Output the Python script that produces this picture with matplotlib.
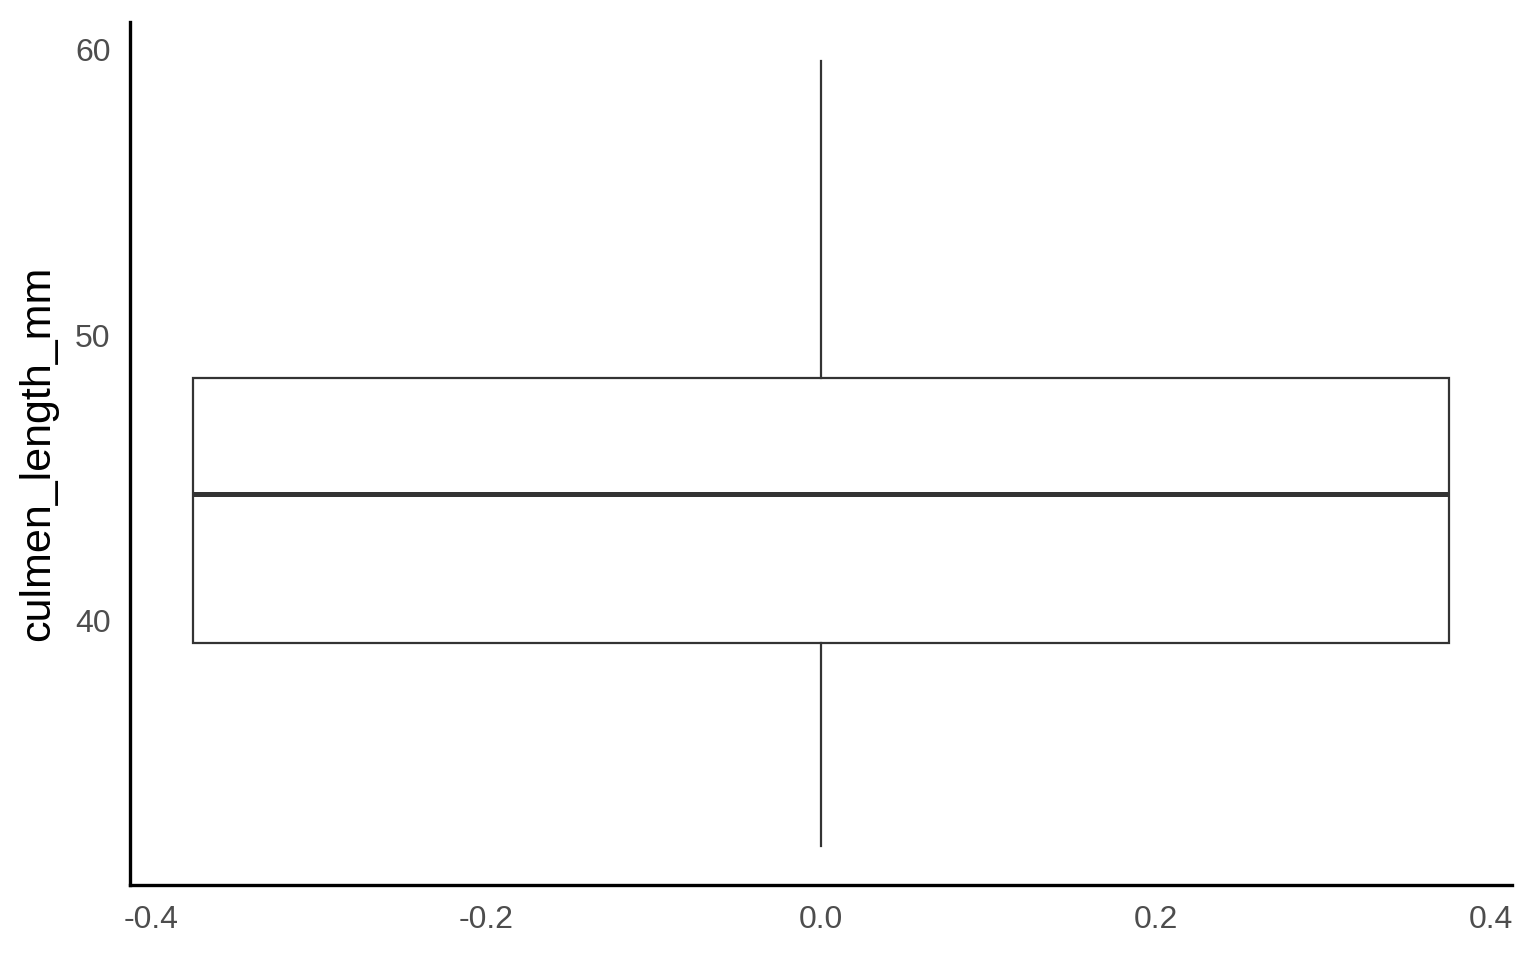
import matplotlib.pyplot as plt

plt.rcParams['font.family'] = ['Liberation Sans', 'DejaVu Sans']

# summary of culmen_length_mm
whisker_low = 32.1
q1 = 39.225
median = 44.45
q3 = 48.5
whisker_high = 59.6

x_ticks = [-0.4, -0.2, 0.0, 0.2, 0.4]
y_ticks = [40, 50, 60]

stats = [{'whislo': whisker_low, 'q1': q1, 'med': median, 'q3': q3,
          'whishi': whisker_high, 'fliers': []}]

fig = plt.figure(figsize=(15.36, 9.6), dpi=100)
ax = fig.add_axes([0.0846, 0.078, 0.8998, 0.899])

box_col = '#333333'
ax.bxp(stats, positions=[0], widths=0.75, showcaps=False, patch_artist=True,
       boxprops=dict(facecolor='white', edgecolor=box_col, linewidth=1.6),
       whiskerprops=dict(color=box_col, linewidth=1.6),
       medianprops=dict(color=box_col, linewidth=3.6, solid_capstyle='butt'),
       manage_ticks=False)

ax.set_xlim(-0.4125, 0.4125)
ax.set_ylim(30.725, 60.975)
ax.set_xticks(x_ticks)
ax.set_xticklabels(['-0.4', '-0.2', '0.0', '0.2', '0.4'])
ax.set_yticks(y_ticks)

ax.tick_params(length=0, labelsize=23, labelcolor='#4D4D4D', pad=14)
ax.set_ylabel('culmen_length_mm', fontsize=31, color='black', labelpad=12)

for side in ['top', 'right']:
    ax.spines[side].set_visible(False)
for side in ['left', 'bottom']:
    ax.spines[side].set_linewidth(2.4)
    ax.spines[side].set_color('black')

fig.savefig('out.png', dpi=100, facecolor='white')
